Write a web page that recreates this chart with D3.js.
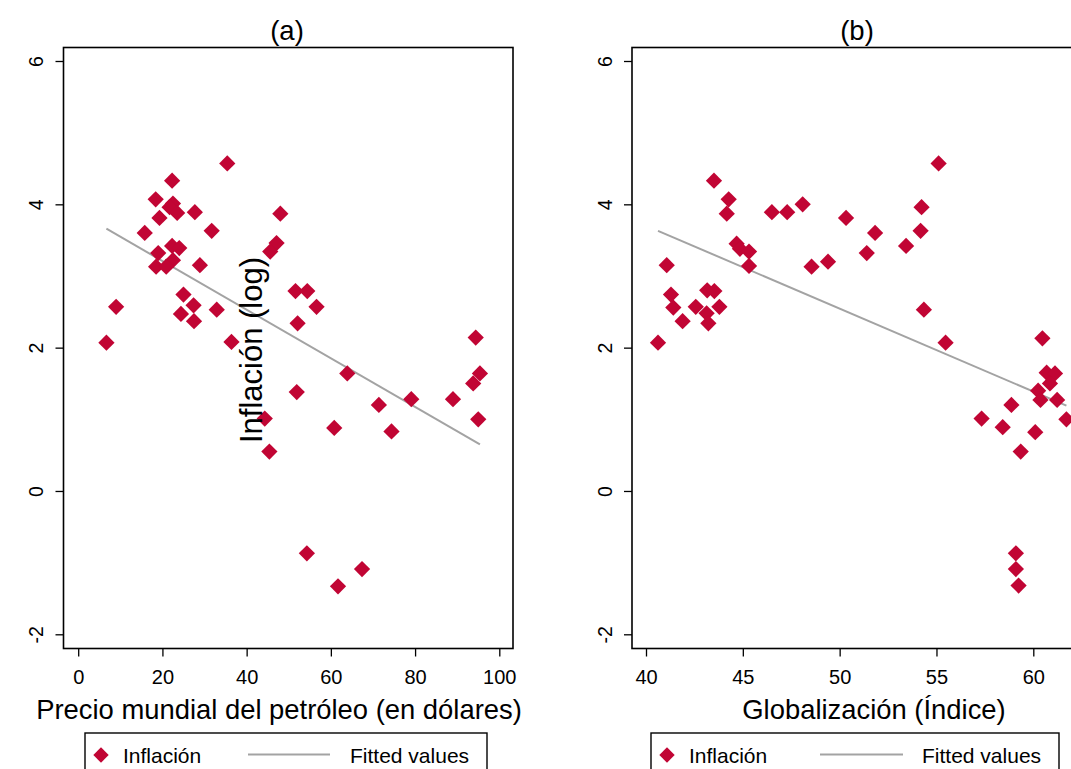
<!DOCTYPE html>
<html>
<head>
<meta charset="utf-8">
<script src="https://cdn.jsdelivr.net/npm/d3@7"></script>
<style>
  html, body { margin: 0; padding: 0; background: #fff; }
  svg { display: block; font-family: "Liberation Sans", Arial, sans-serif; }
</style>
</head>
<body>
<svg id="chart" width="1071" height="769"></svg>
<script>
// ---------- DATA ----------
const panelTitles = ["(a)", "(b)"];
const xTitles = ["Precio mundial del petróleo (en dólares)", "Globalización (Índice)"];
const yTitle = "Inflación (log)";
const legendLabels = ["Inflación", "Fitted values"];

const xTicksA = [0, 20, 40, 60, 80, 100];
const xTicksB = [40, 45, 50, 55, 60];
const yTicks = [-2, 0, 2, 4, 6];

// Panel (a): oil price (USD) vs log inflation
const oilPrice = [35.4, 22.3, 18.4, 22.5, 21.7, 23.5, 27.7, 19.3, 31.7, 15.8, 48.0, 22.3,
  24.0, 19.0, 22.5, 18.5, 20.9, 28.9, 47.1, 45.6, 25.0, 27.4, 9.0, 24.4,
  27.5, 32.9, 51.6, 54.4, 52.1, 6.7, 36.4, 56.6, 94.4, 95.4, 93.8, 89.0,
  95.0, 63.9, 79.1, 71.4, 74.4, 60.8, 51.9, 44.3, 45.4, 54.3, 67.4, 61.7];
const inflA = [4.57, 4.33, 4.07, 4.01, 3.96, 3.88, 3.89, 3.81, 3.63, 3.60, 3.87, 3.42,
  3.39, 3.32, 3.22, 3.13, 3.13, 3.15, 3.46, 3.34, 2.74, 2.59, 2.57, 2.47,
  2.37, 2.53, 2.79, 2.79, 2.34, 2.07, 2.08, 2.57, 2.14, 1.64, 1.50, 1.28,
  1.00, 1.64, 1.28, 1.20, 0.83, 0.88, 1.38, 1.01, 0.55, -0.87, -1.09, -1.33];
const fitOilX = [6.7, 95.4];
const fitOilY = [3.66, 0.65];

// Panel (b): globalization index vs log inflation
const globIndex = [55.11, 43.51, 44.27, 44.17, 46.50, 47.29, 48.09, 50.33, 54.23, 51.83, 54.18, 53.43,
  51.40, 49.40, 48.55, 44.68, 44.85, 45.32, 45.32, 41.07, 41.29, 43.16, 43.53, 41.41,
  42.57, 43.79, 41.89, 43.13, 43.22, 54.35, 40.62, 55.47, 60.47, 60.69, 61.12, 60.86,
  60.25, 60.37, 61.23, 61.71, 58.87, 57.33, 58.42, 60.10, 59.35, 59.10, 59.10, 59.24];
const inflB = [4.57, 4.33, 4.07, 3.87, 3.89, 3.89, 4.00, 3.81, 3.96, 3.60, 3.63, 3.42,
  3.32, 3.20, 3.13, 3.45, 3.38, 3.34, 3.14, 3.15, 2.74, 2.80, 2.79, 2.56,
  2.57, 2.57, 2.37, 2.48, 2.34, 2.53, 2.07, 2.07, 2.13, 1.65, 1.64, 1.50,
  1.40, 1.27, 1.27, 1.00, 1.20, 1.01, 0.89, 0.82, 0.55, -0.87, -1.09, -1.32];
const fitGlobX = [40.62, 61.71];
const fitGlobY = [3.63, 1.19];

// ---------- STYLE / LAYOUT ----------
const markerColor = "#C10534";
const fitColor = "#A3A3A3";
const font = "'Liberation Sans', Arial, sans-serif";

const svg = d3.select("#chart");
const frameTop = 47.5, frameBottom = 648.5;
const y = d3.scaleLinear().domain([-2, 6]).range([634.3, 61]);

const panels = [
  { frameL: 63.5, frameR: 513, x: d3.scaleLinear().domain([0, 100]).range([78.2, 499.3]), ticks: xTicksA,
    xs: oilPrice, ys: inflA, fx: fitOilX, fy: fitOilY, titleX: 287, xTitleX: 279,
    legend: { x0: 85, x1: 487, mk: 101, t1: 123, l0: 248, l1: 330, t2: 350 } },
  { frameL: 632, frameR: 1082, x: d3.scaleLinear().domain([40, 60]).range([646, 1033.3]), ticks: xTicksB,
    xs: globIndex, ys: inflB, fx: fitGlobX, fy: fitGlobY, titleX: 857, xTitleX: 874,
    legend: { x0: 651, x1: 1059, mk: 667, t1: 689, l0: 820, l1: 903, t2: 922 } }
];

const diamond = d3.symbol().type(d3.symbolSquare).size(132);
const plainFmt = d => String(d);

panels.forEach((p, i) => {
  const g = svg.append("g");

  // frame
  g.append("rect")
    .attr("x", p.frameL).attr("y", frameTop)
    .attr("width", p.frameR - p.frameL).attr("height", frameBottom - frameTop)
    .attr("fill", "none").attr("stroke", "#000").attr("stroke-width", 1.6);

  // x axis
  const xa = g.append("g").attr("transform", `translate(0,${frameBottom})`)
    .call(d3.axisBottom(p.x).tickValues(p.ticks).tickFormat(plainFmt).tickSize(8).tickSizeOuter(0).tickPadding(13));
  xa.select(".domain").remove();
  xa.selectAll(".tick line").attr("stroke", "#000").attr("stroke-width", 1.3);
  xa.selectAll(".tick text").attr("fill", "#000").style("font-family", font).style("font-size", "20px");

  // y axis
  const ya = g.append("g").attr("transform", `translate(${p.frameL},0)`)
    .call(d3.axisLeft(y).tickValues(yTicks).tickFormat(plainFmt).tickSize(8).tickSizeOuter(0));
  ya.select(".domain").remove();
  ya.selectAll(".tick line").attr("stroke", "#000").attr("stroke-width", 1.3);
  ya.selectAll(".tick text")
    .attr("x", null).attr("dy", null)
    .attr("transform", "translate(-20.5,0) rotate(-90)")
    .attr("text-anchor", "middle")
    .attr("fill", "#000").style("font-family", font).style("font-size", "19.5px");

  // fitted line
  const fitPts = p.fx.map((v, k) => [p.x(v), y(p.fy[k])]);
  g.append("path").attr("d", d3.line()(fitPts))
    .attr("fill", "none").attr("stroke", fitColor).attr("stroke-width", 2);

  // points
  g.selectAll("path.pt").data(p.xs.map((v, k) => [v, p.ys[k]])).join("path")
    .attr("class", "pt")
    .attr("d", diamond)
    .attr("transform", d => `translate(${p.x(d[0])},${y(d[1])}) rotate(45)`)
    .attr("fill", markerColor);

  // panel title
  g.append("text").attr("x", p.titleX).attr("y", 40).attr("text-anchor", "middle")
    .style("font-family", font).style("font-size", "27.5px").attr("fill", "#000").text(panelTitles[i]);

  // x axis title
  g.append("text").attr("x", p.xTitleX).attr("y", 718.5).attr("text-anchor", "middle")
    .style("font-family", font).style("font-size", "27.4px").attr("fill", "#000").text(xTitles[i]);

  // legend
  const L = p.legend;
  g.append("rect").attr("x", L.x0).attr("y", 733).attr("width", L.x1 - L.x0).attr("height", 50)
    .attr("fill", "#fff").attr("stroke", "#000").attr("stroke-width", 1.4);
  g.append("path").attr("d", d3.symbol().type(d3.symbolSquare).size(118))
    .attr("transform", `translate(${L.mk},755) rotate(45)`).attr("fill", markerColor);
  g.append("text").attr("x", L.t1).attr("y", 763)
    .style("font-family", font).style("font-size", "21px").attr("fill", "#000").text(legendLabels[0]);
  g.append("line").attr("x1", L.l0).attr("x2", L.l1).attr("y1", 754.5).attr("y2", 754.5)
    .attr("stroke", fitColor).attr("stroke-width", 2);
  g.append("text").attr("x", L.t2).attr("y", 763)
    .style("font-family", font).style("font-size", "21px").attr("fill", "#000").text(legendLabels[1]);
});

// overall y title (placed over panel a as in the original)
svg.append("text")
  .attr("transform", "translate(262,350) rotate(-90)")
  .attr("text-anchor", "middle")
  .style("font-family", font).style("font-size", "31px").attr("fill", "#000")
  .text(yTitle);
</script>
</body>
</html>
